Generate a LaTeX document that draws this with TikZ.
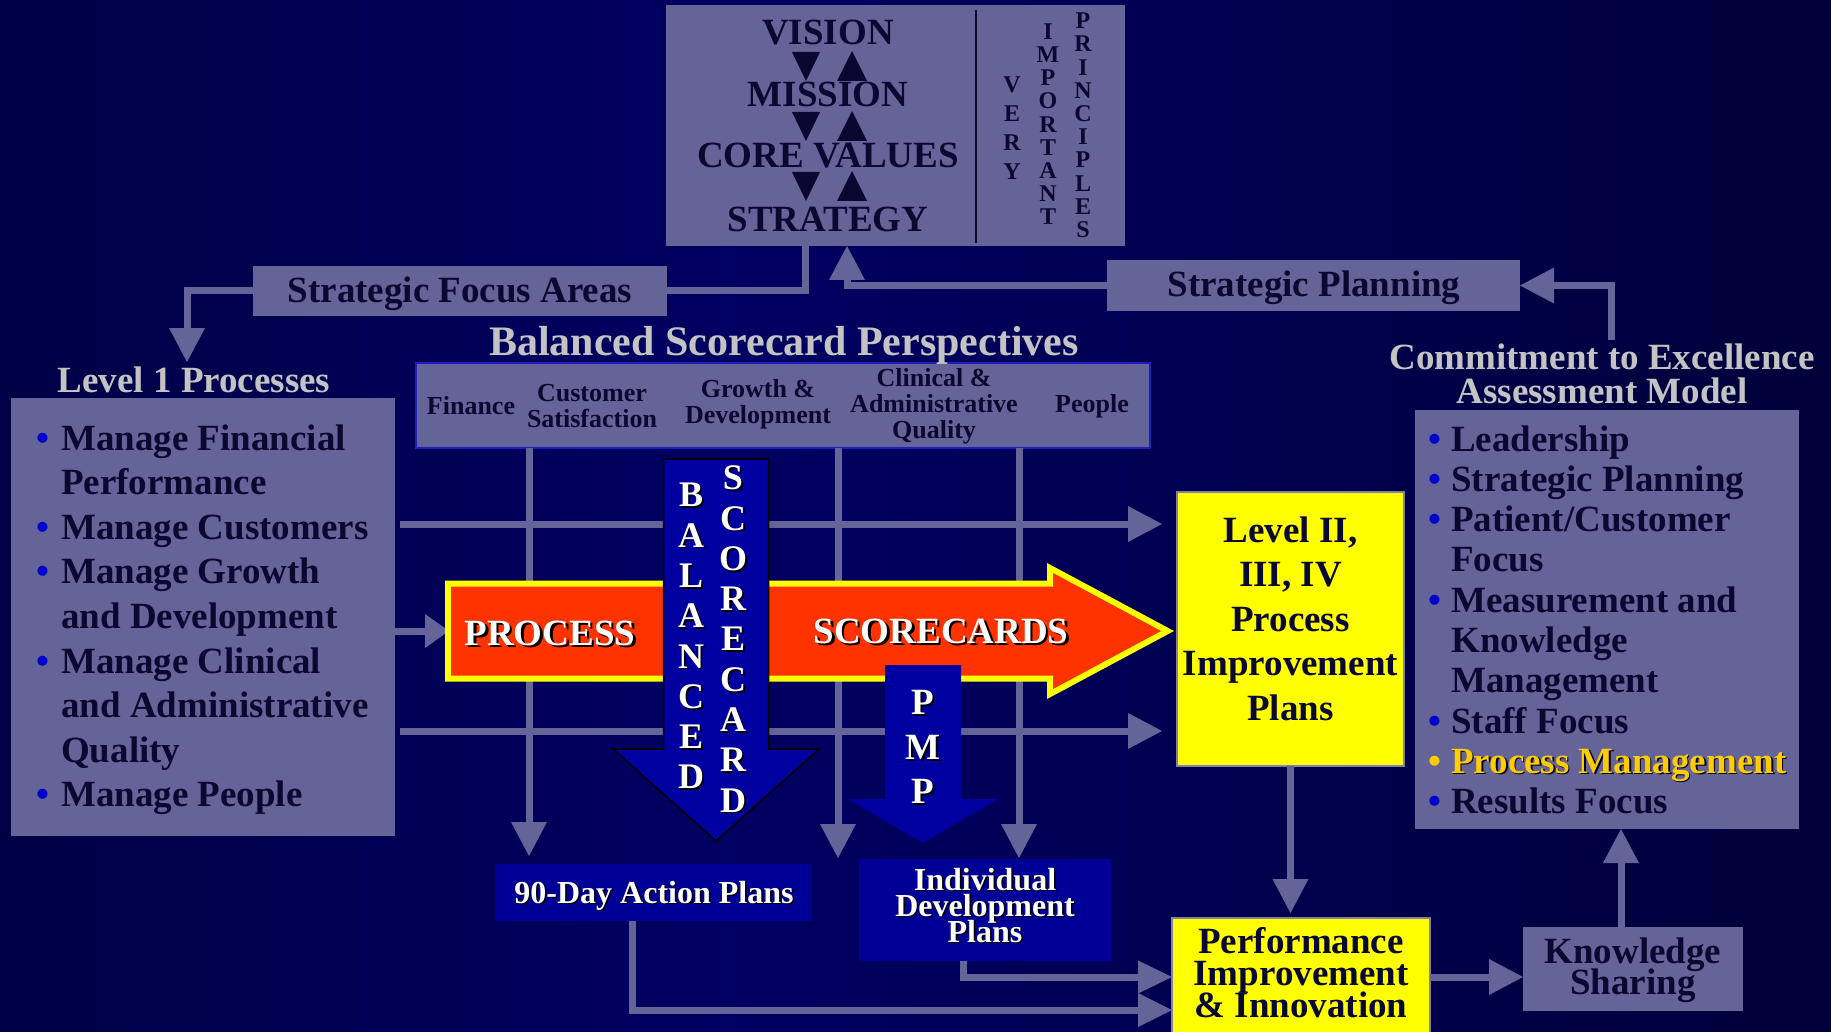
\documentclass[tikz,border=0pt]{standalone}
\usepackage{fontspec}
\setmainfont{Liberation Serif}
\usetikzlibrary{arrows.meta,calc}
\definecolor{boxfill}{RGB}{100,100,152}
\definecolor{conncol}{RGB}{100,100,152}
\definecolor{ink}{RGB}{8,8,48}
\definecolor{titlegray}{RGB}{195,195,195}
\definecolor{bulblue}{RGB}{0,0,204}
\definecolor{royal}{RGB}{0,0,150}
\definecolor{arrowblue}{RGB}{0,0,160}
\definecolor{orangered}{RGB}{255,51,0}
\definecolor{brightyellow}{RGB}{255,255,0}
\definecolor{gold}{RGB}{255,204,0}
\definecolor{perspborder}{RGB}{30,30,190}
\definecolor{ylborder}{RGB}{130,130,165}
\definecolor{bgl}{RGB}{0,0,34}
\definecolor{bgm}{RGB}{0,0,98}
\definecolor{bgr}{RGB}{0,0,24}
\newcommand\myfs[2]{\fontsize{#1}{#2}\selectfont\bfseries\lineskiplimit=-1000pt\relax}
\newcommand\shd[2][1.8pt]{\makebox[0pt][l]{\hspace{#1}\raisebox{-#1}{\textcolor{black}{#2}}}#2}
\newcommand\bul[2]{\leavevmode\llap{\textcolor{#2}{•}\hspace{#1}}}
\pgfdeclarehorizontalshading{bgshade}{100bp}{color(0bp)=(bgl); color(45bp)=(bgm); color(100bp)=(bgr)}
\begin{document}
\begin{tikzpicture}[x=1pt,y=-1pt,
  box/.style={fill=boxfill, inner sep=0pt, outer sep=0pt},
  txt/.style={inner sep=0pt, text=ink},
  wtxt/.style={inner sep=0pt, text=white},
  title/.style={inner sep=0pt, text=titlegray, anchor=base, font=\myfs{37}{37}},
  conn/.style={draw=conncol, line width=7pt, -{Triangle[length=34pt,width=36pt,line width=0pt]}},
  connplain/.style={draw=conncol, line width=7pt},
]
\useasboundingbox (0,0) rectangle (1831,1032);
\shade[shading=bgshade] (0,0) rectangle (1831,1032);

% ---------- boxes ----------
\node[box, minimum width=459pt, minimum height=241pt] (vmb) at (895.5,125.5) {};
\node[box, minimum width=414pt, minimum height=50pt] (sfa) at (460,291) {};
\node[box, minimum width=413pt, minimum height=51pt] (sp) at (1313.5,285.5) {};
\node[box, draw=perspborder, line width=2pt, minimum width=734pt, minimum height=85pt] (persp) at (783,405.5) {};
\node[box, minimum width=384.5pt, minimum height=438pt] (l1) at (202.75,617) {};
\node[box, minimum width=384pt, minimum height=419pt] (cte) at (1607,619.5) {};
\node[box, fill=brightyellow, draw=ylborder, line width=1.5pt, minimum width=227pt, minimum height=274pt] (lvl2) at (1290.5,629) {};
\node[box, fill=brightyellow, draw=ylborder, line width=1.5pt, minimum width=258pt, minimum height=118pt] (perf) at (1301,977) {};
\node[box, minimum width=220pt, minimum height=84pt] (ks) at (1633,969) {};
\node[box, fill=royal, minimum width=317pt, minimum height=57pt] (d90) at (653.5,892.5) {};
\node[box, fill=royal, minimum width=252pt, minimum height=102pt] (idp) at (985,910) {};

% ---------- coordinates for free ends ----------
\coordinate (l1in) at (187,362);
\coordinate (ctein) at (1611,340);
\coordinate (h1) at (0,524);
\coordinate (h2) at (0,731);
\coordinate (v1) at (529,856);
\coordinate (v2) at (838,858);
\coordinate (v3) at (1019,858);
\coordinate (paw) at (445,631);
\coordinate (kx) at ($(ks.north)+(-12,0)$);
\coordinate (ix) at ($(idp.south)+(-22,0)$);
\coordinate (dx) at ($(d90.south)+(-21.5,0)$);

% ---------- connectors ----------
\draw[connplain] ($(vmb.south)+(-90.5,0)$) |- (sfa.east);
\draw[conn] (sfa.west) -| (l1in);
\draw[conn] (sp.west) -| ($(vmb.south)+(-48.5,0)$);
\draw[conn] (ctein) |- (sp.east);
\draw[conn] ($(l1.east |- h1)+(5,0)$) -- ($(lvl2.west |- h1)+(-15,0)$);
\draw[conn] ($(l1.east |- h2)+(5,0)$) -- ($(lvl2.west |- h2)+(-15,0)$);
\draw[conn] (persp.south -| v1) -- (v1);
\draw[conn] (persp.south -| v2) -- (v2);
\draw[conn] (persp.south -| v3) -- (v3);
\draw[conn, -{Triangle[length=24pt,width=34pt,line width=0pt]}] (l1.east |- paw) -- ($(paw)+(4,0)$);
\draw[conn] (lvl2.south) -- ($(lvl2.south |- perf.north)+(0,-5)$);
\draw[conn] (perf.east) -- (perf.east -| ks.west);
\draw[conn] (kx) -- (kx |- cte.south);
\draw[conn, -{Triangle[length=34pt,width=33pt,line width=0pt]}] (ix) |- (perf.west);
\draw[conn, -{Triangle[length=34pt,width=34pt,line width=0pt]}] (dx) |- ($(perf.west)+(0,33)$);

% ---------- big arrows ----------
\fill[brightyellow] (445,580.5) -- (1047,580.5) -- (1047,563) -- (1174,631) -- (1047,699) -- (1047,681.5) -- (445,681.5) -- cycle;
\fill[orangered] (451,586.5) -- (1053,586.5) -- (1053,573) -- (1161,631) -- (1053,689) -- (1053,675.5) -- (451,675.5) -- cycle;
\filldraw[fill=arrowblue, draw=black, line width=1.5pt] (663.5,459) -- (768.5,459) -- (768.5,749) -- (819,749) -- (716,841) -- (613,749) -- (663.5,749) -- cycle;
\fill[arrowblue] (885,665) -- (961,665) -- (961,799) -- (998,799) -- (923,843) -- (848,799) -- (885,799) -- cycle;

% ---------- vision box contents ----------
\draw[ink, line width=2pt] (976,10) -- (976,243);
\foreach \off in {0,60,120} {
  \fill[ink] (792,52+\off) -- (820,52+\off) -- (806,81+\off) -- cycle;
  \fill[ink] (837,81+\off) -- (867,81+\off) -- (852,51+\off) -- cycle;
}
\node[txt, font=\myfs{37}{37}, anchor=base] (tvision) at (828,45) {VISION};
\node[txt, font=\myfs{37}{37}, anchor=base] (tmission) at (828,107) {MISSION};
\node[txt, font=\myfs{37}{37}, anchor=base] (tcore) at (828,168) {CORE VALUES};
\node[txt, font=\myfs{37}{37}, anchor=base] (tstrat) at (828,232) {STRATEGY};
\node[txt, font=\myfs{24}{29}, align=center] (tvery) at (1012,128.5) {V\\E\\R\\Y};
\node[txt, font=\myfs{24}{23.2}, align=center] (timp) at (1048,124.3) {I\\M\\P\\O\\R\\T\\A\\N\\T};
\node[txt, font=\myfs{24}{23.2}, align=center] (tprin) at (1083,125.4) {P\\R\\I\\N\\C\\I\\P\\L\\E\\S};

% ---------- labels ----------
\node[txt, font=\myfs{37}{37}, anchor=base] (tsfa) at (460,303) {Strategic Focus Areas};
\node[txt, font=\myfs{37}{37}, anchor=base] (tsp) at (1314,297) {Strategic Planning};
\node[title] (tl1) at (194,392) {Level 1 Processes};
\node[title, font=\myfs{42}{42}] (tbsc) at (784,355) {Balanced Scorecard Perspectives};
\node[title] (tcte1) at (1602,369) {Commitment to Excellence};
\node[title] (tcte2) at (1602,403) {Assessment Model};

\node[txt, font=\myfs{26}{26}, align=center] (pfin) at (471,406) {Finance};
\node[txt, font=\myfs{26}{26}, align=center] (pcus) at (592,406) {Customer\\Satisfaction};
\node[txt, font=\myfs{26}{26}, align=center] (pgro) at (758,404) {Growth \&\\Development};
\node[txt, font=\myfs{26}{26}, align=center] (pcli) at (934,406) {Clinical \&\\Administrative\\Quality};
\node[txt, font=\myfs{26}{26}, align=center] (ppeo) at (1092,406) {People};

\node[txt, anchor=base west] (l1items) at (61,450) {\parbox[t]{330pt}{\myfs{37}{44.6}\raggedright
\bul{12pt}{bulblue}Manage Financial\\
Performance\\
\bul{12pt}{bulblue}Manage Customers\\
\bul{12pt}{bulblue}Manage Growth\\
and Development\\
\bul{12pt}{bulblue}Manage Clinical\\
and Administrative\\
Quality\\
\bul{12pt}{bulblue}Manage People}};

\node[txt, anchor=base west] (cteitems) at (1451,451) {\parbox[t]{346pt}{\myfs{37}{40.3}\raggedright
\bul{10pt}{bulblue}Leadership\\
\bul{10pt}{bulblue}Strategic Planning\\
\bul{10pt}{bulblue}Patient/Customer\\
Focus\\
\bul{10pt}{bulblue}Measurement and\\
Knowledge\\
Management\\
\bul{10pt}{bulblue}Staff Focus\\
\bul{10pt}{gold}\textcolor{gold}{\shd[1.5pt]{Process Management}}\\
\bul{10pt}{bulblue}Results Focus}};

\node[txt, anchor=base] (tlvl2) at (1290.5,542) {\parbox[t]{227pt}{\centering\myfs{37}{44.5}Level II,\\III, IV\\Process\\Improvement\\Plans}};
\node[txt, anchor=base] (tperf) at (1301,953) {\parbox[t]{258pt}{\centering\myfs{37}{32}Performance\\Improvement\\\& Innovation}};
\node[txt, anchor=base] (tks) at (1633,963) {\parbox[t]{220pt}{\centering\myfs{37}{31}Knowledge\\Sharing}};
\node[wtxt, font=\myfs{32}{32}, anchor=base] (td90) at (654,903) {\shd[1.5pt]{90-Day Action Plans}};
\node[wtxt, anchor=base] (tidp) at (985,890) {\parbox[t]{252pt}{\centering\myfs{32}{26}\shd[1.5pt]{Individual}\\\shd[1.5pt]{Development}\\\shd[1.5pt]{Plans}}};

\node[wtxt, font=\myfs{37}{37}, anchor=base] (tproc) at (550,645) {\shd[2.5pt]{PROCESS}};
\node[wtxt, font=\myfs{37}{37}, anchor=base] (tscore) at (941,643) {\shd[2.5pt]{SCORECARDS}};
\node[wtxt, font=\myfs{36}{40.3}, align=center] (tbal) at (691,637) {\shd{B}\\\shd{A}\\\shd{L}\\\shd{A}\\\shd{N}\\\shd{C}\\\shd{E}\\\shd{D}};
\node[wtxt, font=\myfs{36}{40.3}, align=center] (tsc) at (733,640) {\shd{S}\\\shd{C}\\\shd{O}\\\shd{R}\\\shd{E}\\\shd{C}\\\shd{A}\\\shd{R}\\\shd{D}};
\node[wtxt, font=\myfs{37}{44.5}, align=center] (tpmp) at (923,748) {\shd{P}\\\shd{M}\\\shd{P}};
\end{tikzpicture}
\end{document}
